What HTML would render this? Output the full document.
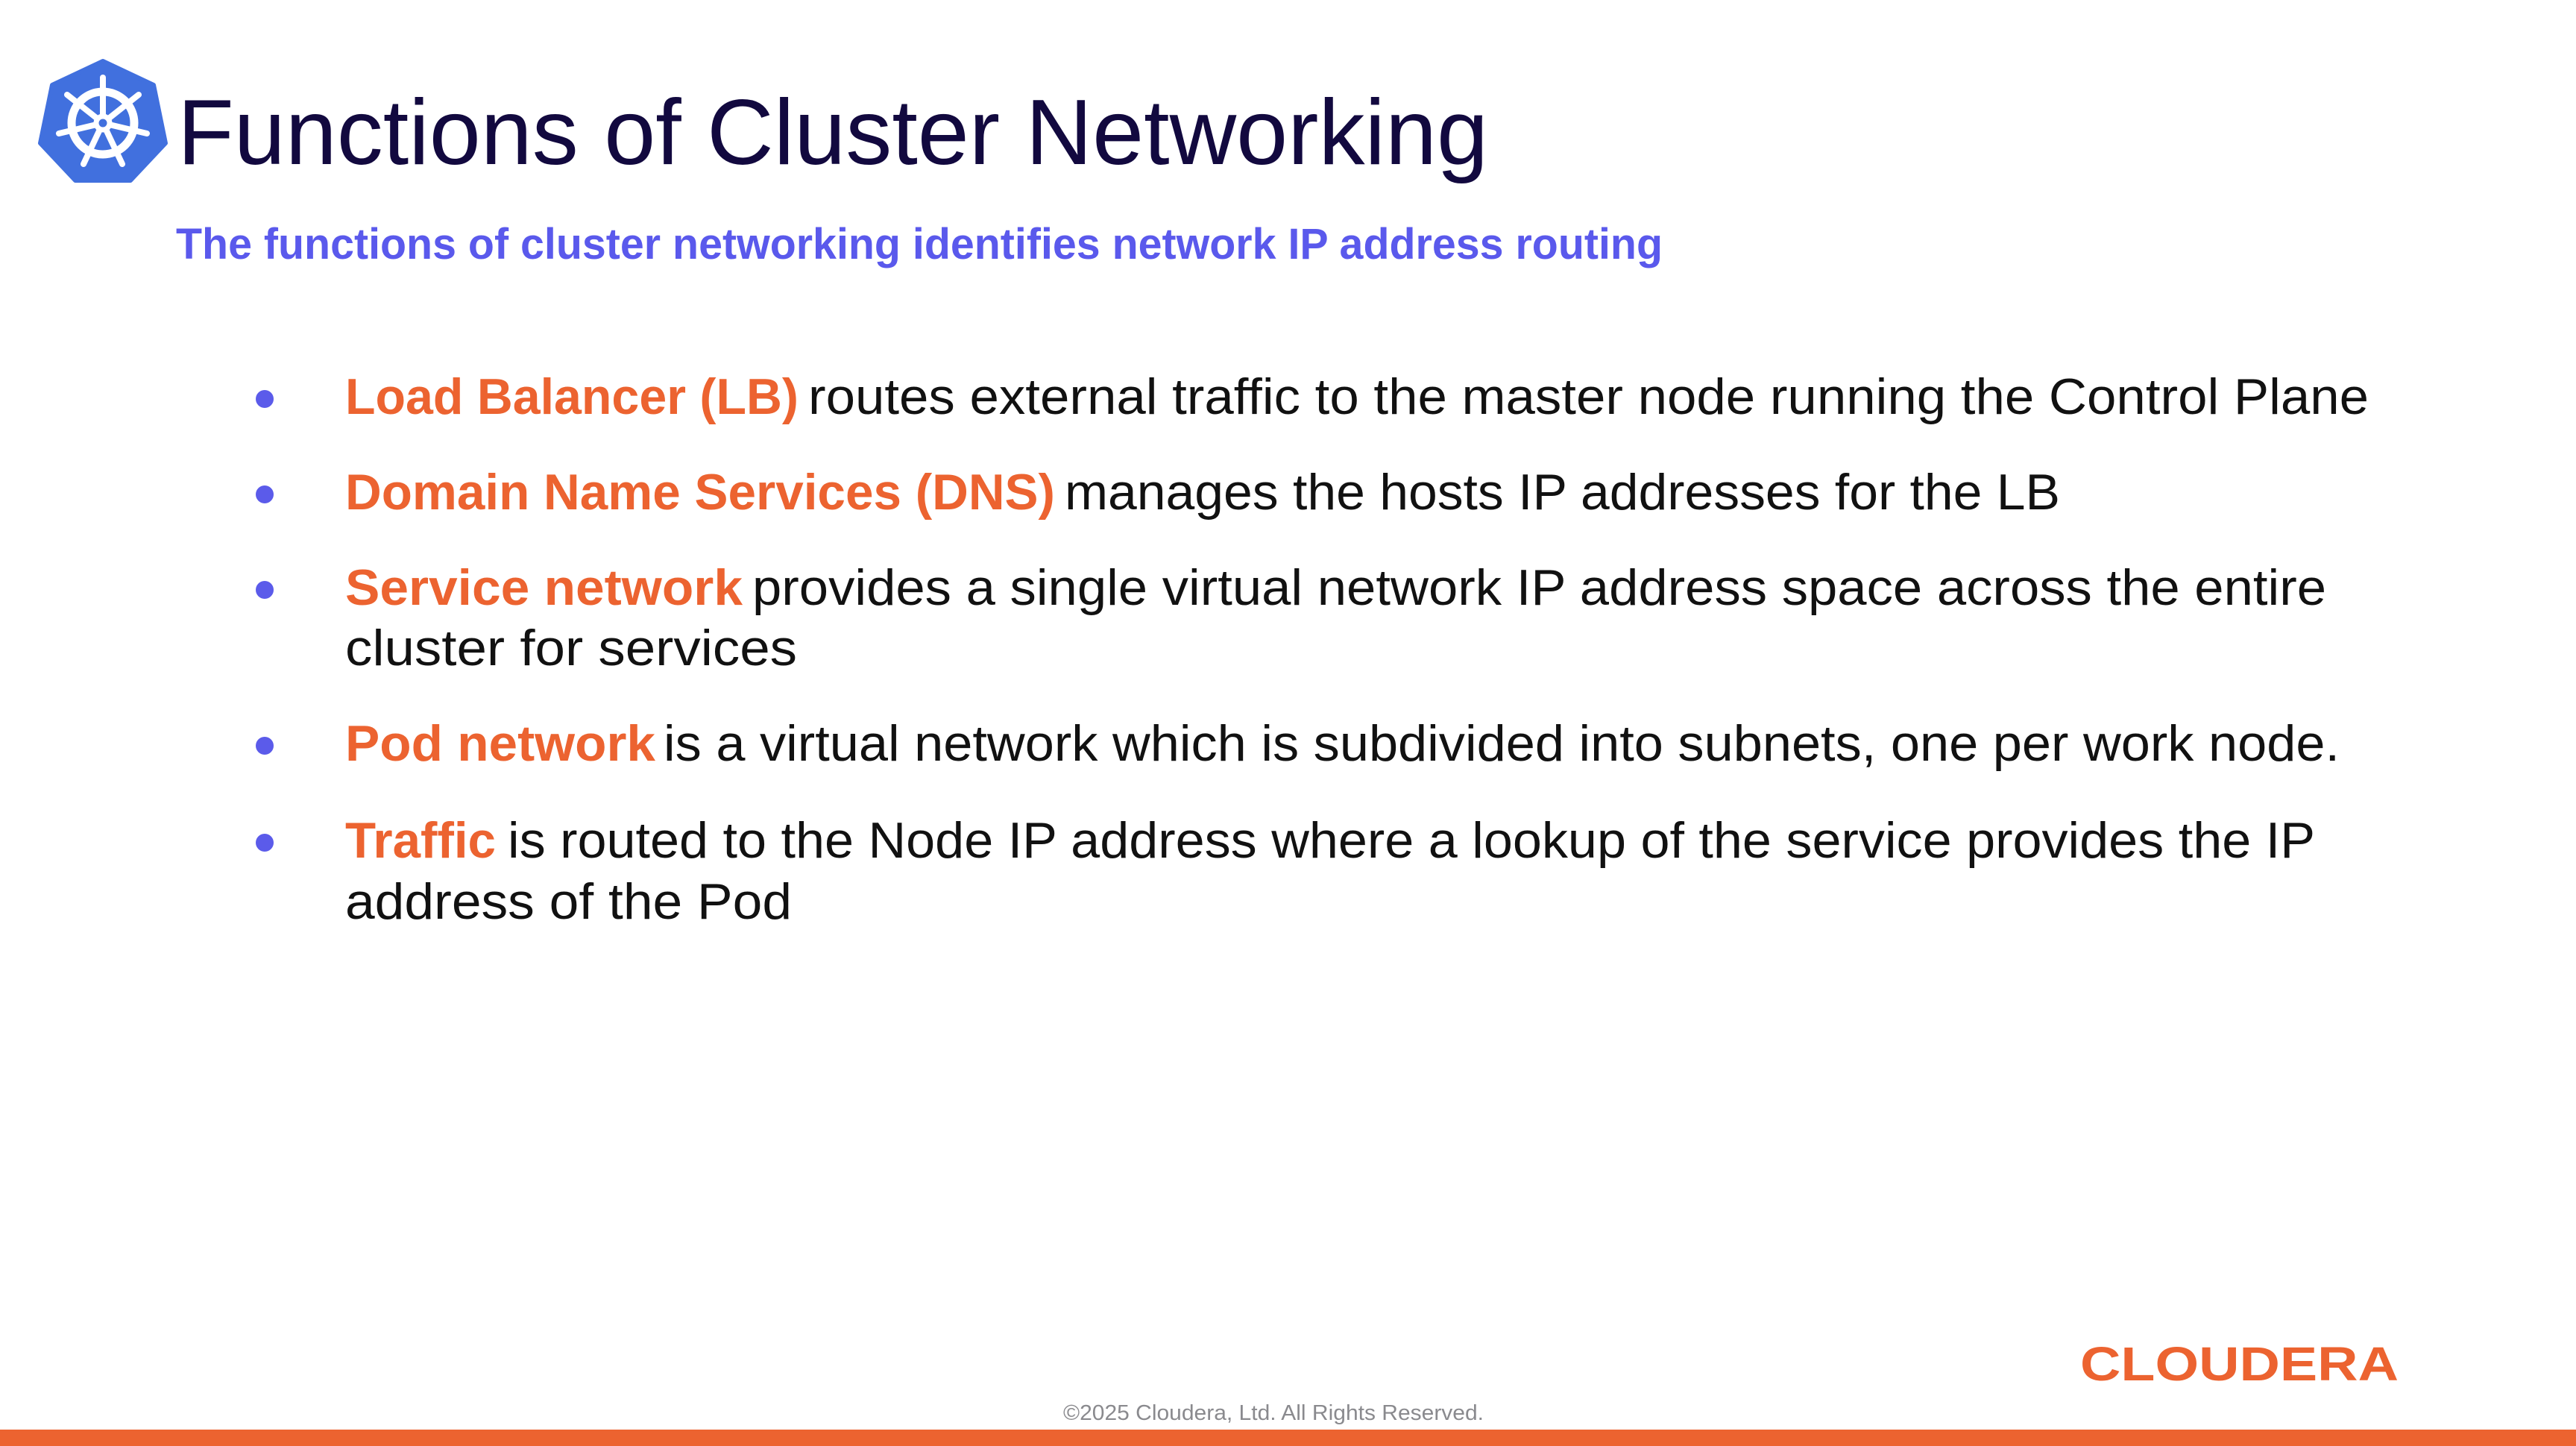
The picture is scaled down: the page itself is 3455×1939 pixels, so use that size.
<!DOCTYPE html>
<html><head><meta charset="utf-8"><style>
html,body{margin:0;padding:0;background:#fff;}
svg{display:block;}
text{font-family:"Liberation Sans",sans-serif;}
</style></head><body>
<svg width="3455" height="1939" viewBox="0 0 3455 1939" xmlns="http://www.w3.org/2000/svg">
<rect width="3455" height="1939" fill="#fff"/>
<g>
<polygon points="138,82 206,114 222,192 175,242 101,242 54,192 70,114" fill="#4170de" stroke="#4170de" stroke-width="6" stroke-linejoin="round"/>
<g stroke="#fff" stroke-linecap="round" fill="none">
<circle cx="138" cy="165" r="42" stroke-width="11"/>
<g stroke-width="8">
<line x1="138" y1="165" x2="138" y2="104"/>
<line x1="138" y1="165" x2="186" y2="127"/>
<line x1="138" y1="165" x2="197" y2="179"/>
<line x1="138" y1="165" x2="164" y2="220"/>
<line x1="138" y1="165" x2="112" y2="220"/>
<line x1="138" y1="165" x2="79" y2="179"/>
<line x1="138" y1="165" x2="90" y2="127"/>
</g>
</g>
<circle cx="138" cy="165" r="9" fill="#4170de" stroke="#fff" stroke-width="7"/>
</g>
<text x="238" y="220" font-size="124" fill="#12093f" textLength="1758" lengthAdjust="spacingAndGlyphs">Functions of Cluster Networking</text>
<text x="236" y="347" font-size="58" font-weight="bold" fill="#5a59ec" textLength="1994" lengthAdjust="spacingAndGlyphs">The functions of cluster networking identifies network IP address routing</text>
<g fill="#5b5bea">
<circle cx="355" cy="535" r="12"/>
<circle cx="355" cy="663" r="12"/>
<circle cx="355" cy="791" r="12"/>
<circle cx="355" cy="1000" r="12"/>
<circle cx="355" cy="1130" r="12"/>
</g>
<g font-size="68">
<text x="463" y="555" font-weight="bold" fill="#ec6330" textLength="608" lengthAdjust="spacingAndGlyphs">Load Balancer (LB)</text>
<text x="1084" y="555" fill="#111" textLength="2093" lengthAdjust="spacingAndGlyphs">routes external traffic to the master node running the Control Plane</text>
<text x="463" y="683" font-weight="bold" fill="#ec6330" textLength="952" lengthAdjust="spacingAndGlyphs">Domain Name Services (DNS)</text>
<text x="1428" y="683" fill="#111" textLength="1335" lengthAdjust="spacingAndGlyphs">manages the hosts IP addresses for the LB</text>
<text x="463" y="811" font-weight="bold" fill="#ec6330" textLength="533" lengthAdjust="spacingAndGlyphs">Service network</text>
<text x="1009" y="811" fill="#111" textLength="2111" lengthAdjust="spacingAndGlyphs">provides a single virtual network IP address space  across the entire</text>
<text x="463" y="892" fill="#111" textLength="606" lengthAdjust="spacingAndGlyphs">cluster  for services</text>
<text x="463" y="1020" font-weight="bold" fill="#ec6330" textLength="416" lengthAdjust="spacingAndGlyphs">Pod network</text>
<text x="890" y="1020" fill="#111" textLength="2248" lengthAdjust="spacingAndGlyphs">is a virtual network which is subdivided into subnets, one per work node.</text>
<text x="463" y="1150" font-weight="bold" fill="#ec6330" textLength="202" lengthAdjust="spacingAndGlyphs">Traffic</text>
<text x="681" y="1150" fill="#111" textLength="2424" lengthAdjust="spacingAndGlyphs">is routed to the Node IP address where a lookup of the service provides the IP</text>
<text x="463" y="1232" fill="#111" textLength="599" lengthAdjust="spacingAndGlyphs">address of the Pod</text>
</g>
<text x="2790" y="1851" font-size="64" font-weight="bold" fill="#ec6330" textLength="427" lengthAdjust="spacingAndGlyphs">CLOUDERA</text>
<text x="1426" y="1904" font-size="29" fill="#8a8a8e" textLength="564" lengthAdjust="spacingAndGlyphs">©2025 Cloudera, Ltd. All Rights Reserved.</text>
<rect x="0" y="1917" width="3455" height="22" fill="#ec6330"/>
</svg>
</body></html>
